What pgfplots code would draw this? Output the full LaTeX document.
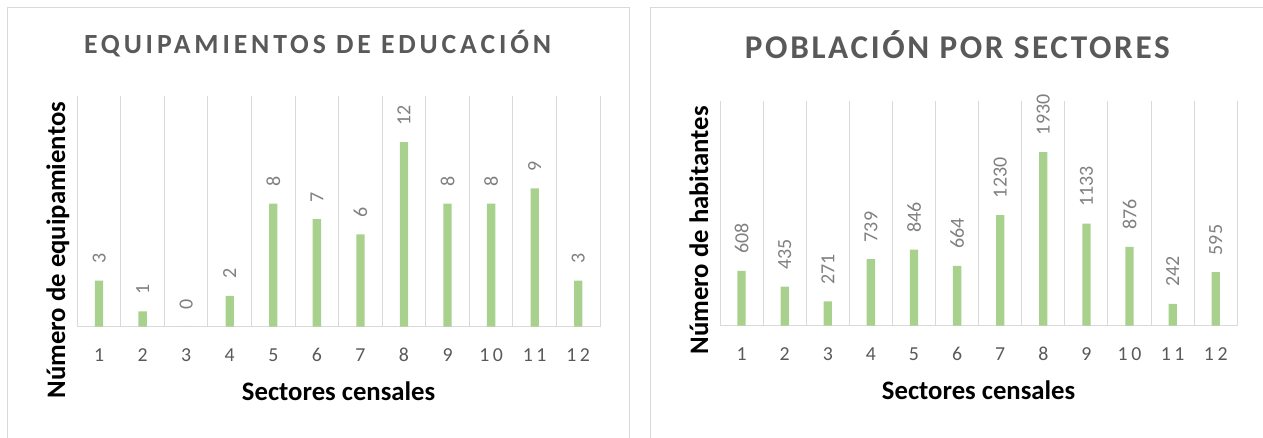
\documentclass[border=0pt]{standalone}
\usepackage{fontspec}
\setmainfont{Carlito}
\newfontfamily\titleA[LetterSpace=14]{Carlito}
\newfontfamily\titleB[LetterSpace=8]{Carlito}
\newfontfamily\tickfont[LetterSpace=18]{Carlito}
\usepackage{pgfplots}
\pgfplotsset{compat=1.18}
\definecolor{bargreen}{HTML}{A9D18E}
\definecolor{gridgray}{HTML}{D9D9D9}
\definecolor{tickgray}{HTML}{595959}
\definecolor{labelgray}{HTML}{808080}
\definecolor{titlegray}{HTML}{595959}

\pgfplotsset{
  excelbar/.style={
    scale only axis,
    anchor=south west,
    xmin=0.5, xmax=12.5,
    ymin=0,
    axis line style={draw=none},
    xtick={1,...,12},
    minor xtick={0.5,1.5,...,12.5},
    xminorgrids,
    ytick={0},
    yticklabels={},
    ymajorgrids,
    major grid style={gridgray, line width=1pt},
    minor grid style={gridgray, line width=1pt},
    tick style={draw=none},
    major tick length=0pt, minor tick length=0pt,
    /pgf/number format/assume math mode=true,
    /pgf/number format/1000 sep={},
    xticklabel style={font=\tickfont\fontsize{19.8}{20}\selectfont, color=tickgray, anchor=base},
    ybar, bar width=8.3pt,
    nodes near coords,
    every node near coord/.append style={font=\fontsize{20}{20}\selectfont, color=labelgray,
      rotate=90, anchor=west, inner sep=0pt, outer xsep=17pt, outer ysep=0pt},
    every axis x label/.style={anchor=base, font=\bfseries\fontsize{26.7}{28}\selectfont, color=black},
    every axis y label/.style={anchor=base, rotate=90, font=\bfseries\fontsize{26.7}{28}\selectfont, color=black},
  }
}

\begin{document}
\begin{tikzpicture}[x=1pt,y=1pt]
\useasboundingbox (0,0) rectangle (1263,437);
\draw[gridgray, line width=1pt] (7.3,-10) -- (7.3,429.7) -- (629.3,429.7) -- (629.3,-10);
\draw[gridgray, line width=1pt] (650.7,-10) -- (650.7,429.7) -- (1290,429.7);

\node[anchor=base, color=titlegray, font=\titleA\bfseries\fontsize{27.7}{30}\selectfont] at (317.6,383.7) {EQUIPAMIENTOS DE EDUCACIÓN};
\node[anchor=base, color=titlegray, font=\titleB\bfseries\fontsize{33.2}{36}\selectfont] at (957.3,378.7) {POBLACIÓN POR SECTORES};

\begin{axis}[excelbar,
  at={(77.3pt,110.3pt)}, width=522.7pt, height=230.7pt,
  ymax=15,
  xticklabel style={yshift=-35pt},
  xlabel={Sectores censales},
  ylabel={Número de equipamientos},
  x label style={at={(axis description cs:0.5,-0.3208)}},
  y label style={at={(axis description cs:-0.0235,0.3316)}},
]
\addplot[fill=bargreen, draw=none] coordinates {
(1,3) (2,1) (3,0) (4,2) (5,8) (6,7) (7,6) (8,12) (9,8) (10,8) (11,9) (12,3)
};
\end{axis}

\begin{axis}[excelbar,
  at={(720pt,111.3pt)}, width=517.3pt, height=225pt,
  ymax=2500,
  xticklabel style={yshift=-34.3pt},
  xlabel={Sectores censales},
  ylabel={Número de habitantes},
  x label style={at={(axis description cs:0.5,-0.327)}},
  y label style={at={(axis description cs:-0.0232,0.4244)}},
]
\addplot[fill=bargreen, draw=none] coordinates {
(1,608) (2,435) (3,271) (4,739) (5,846) (6,664) (7,1230) (8,1930) (9,1133) (10,876) (11,242) (12,595)
};
\end{axis}
\end{tikzpicture}
\end{document}
